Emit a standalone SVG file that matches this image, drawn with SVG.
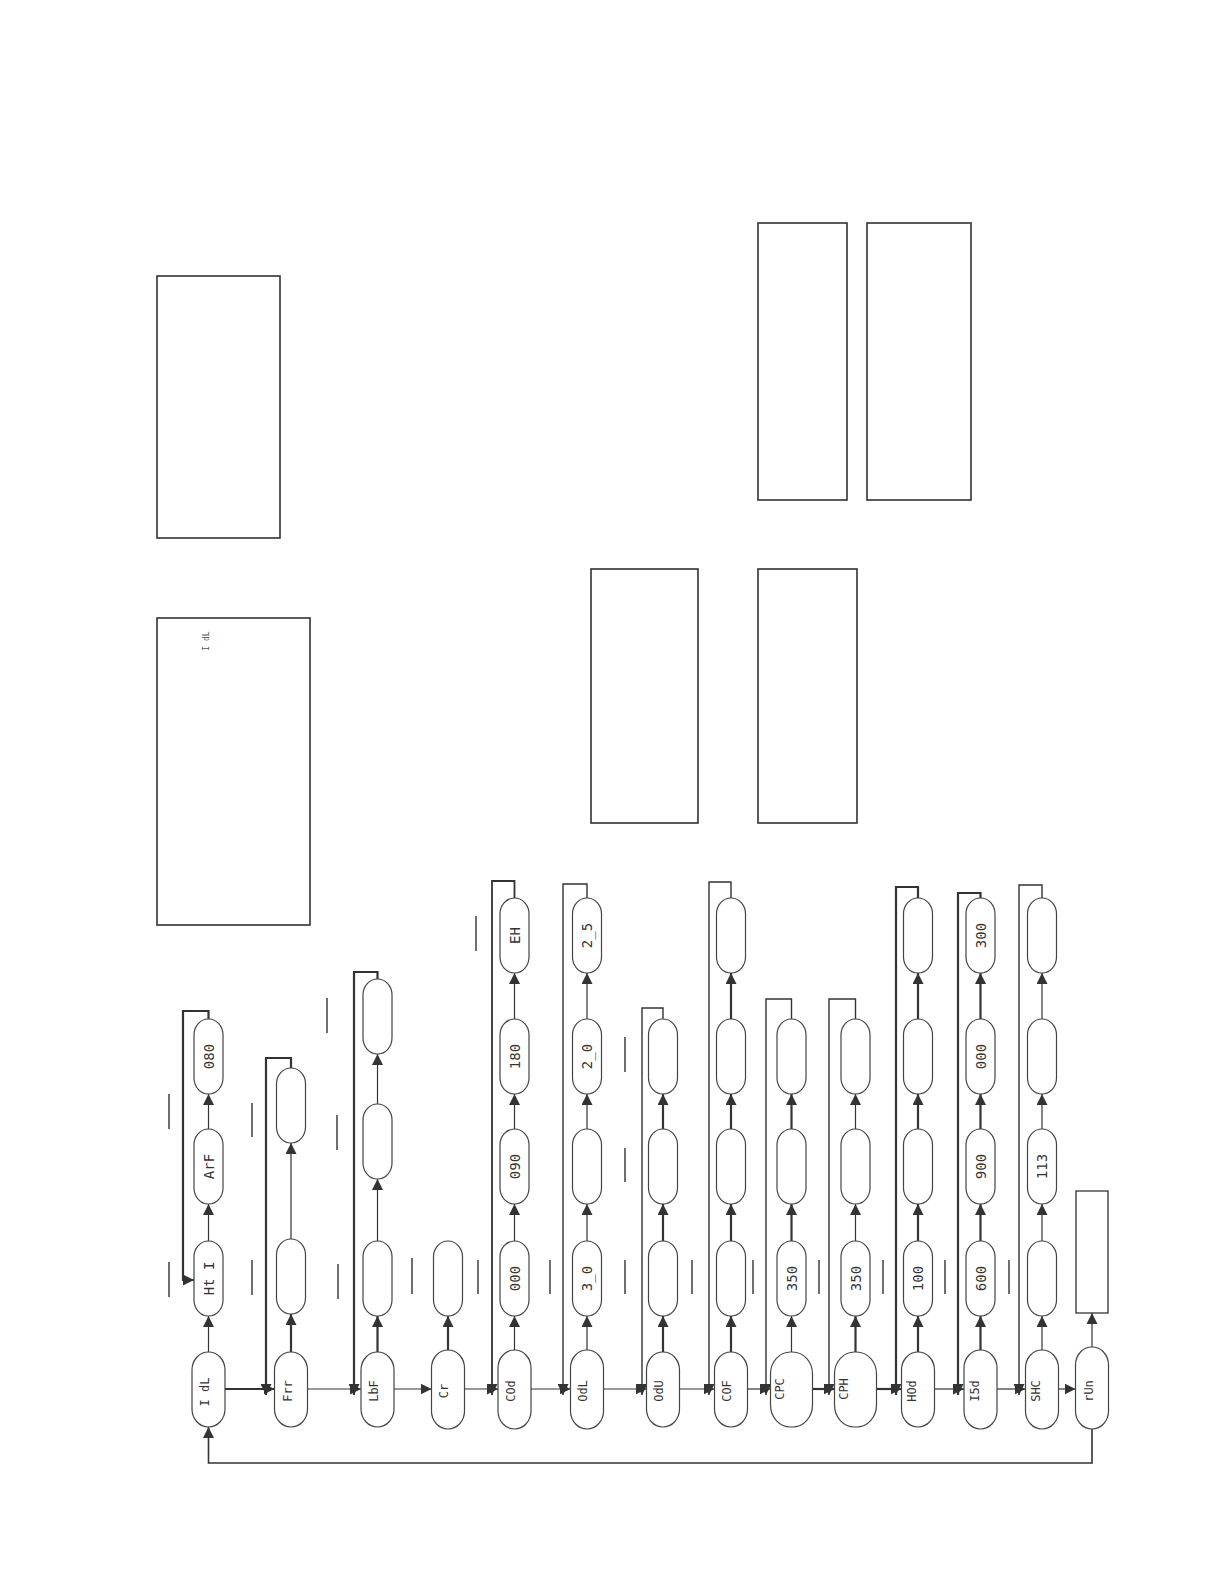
<svg xmlns="http://www.w3.org/2000/svg" width="1224" height="1584" viewBox="0 0 1224 1584">
<style>
.bg{fill:#fff}
.pill{fill:#fff;stroke:#444;stroke-width:1.2}
.box{fill:none;stroke:#333;stroke-width:1.6}
.ln{fill:none;stroke:#333;stroke-width:1.2}
.thk{stroke-width:2.2}
.dash{stroke:#222;stroke-width:1.3}
.lbl{font-family:"DejaVu Sans Mono","Liberation Mono",monospace;font-size:14px;fill:#333;text-anchor:middle}
.mlbl{font-family:"DejaVu Sans Mono","Liberation Mono",monospace;font-size:12px;fill:#333;text-anchor:middle}
.tiny{font-family:"DejaVu Sans Mono","Liberation Mono",monospace;font-size:8px;fill:#555;text-anchor:middle}
</style>
<defs>
<marker id="ah" markerUnits="userSpaceOnUse" markerWidth="11" markerHeight="11" refX="11" refY="5.5" orient="auto"><path d="M0,0L11,5.5L0,11z" fill="#333"/></marker>
</defs>
<rect class="bg" x="0" y="0" width="1224" height="1584"/>

<g id="boxes">
<rect id="box-a" class="box" x="157" y="276" width="123" height="262"/>
<g id="box-b"><rect class="box" x="157" y="618" width="153" height="307"/><text class="tiny" transform="translate(209,641) rotate(-90)">I dL</text></g>
<rect id="box-c" class="box" x="591" y="569" width="107" height="254"/>
<rect id="box-d" class="box" x="758" y="569" width="99" height="254"/>
<rect id="box-e" class="box" x="758" y="223" width="89" height="277"/>
<rect id="box-f" class="box" x="867" y="223" width="104" height="277"/>
</g>

<g id="marks">
<line class="dash" x1="169" y1="1094" x2="169" y2="1129"/>
<line class="dash" x1="169" y1="1262" x2="169" y2="1297"/>
<line class="dash" x1="252" y1="1103" x2="252" y2="1137"/>
<line class="dash" x1="252" y1="1260" x2="252" y2="1295"/>
<line class="dash" x1="327" y1="998" x2="327" y2="1033"/>
<line class="dash" x1="337" y1="1115" x2="337" y2="1150"/>
<line class="dash" x1="338" y1="1264" x2="338" y2="1299"/>
<line class="dash" x1="412" y1="1258" x2="412" y2="1294"/>
<line class="dash" x1="478" y1="1260" x2="478" y2="1294"/>
<line class="dash" x1="476" y1="916" x2="476" y2="951"/>
<line class="dash" x1="550" y1="1260" x2="550" y2="1294"/>
<line class="dash" x1="625" y1="1037" x2="625" y2="1072"/>
<line class="dash" x1="625" y1="1148" x2="625" y2="1182"/>
<line class="dash" x1="625" y1="1260" x2="625" y2="1294"/>
<line class="dash" x1="692" y1="1260" x2="692" y2="1294"/>
<line class="dash" x1="753" y1="1260" x2="753" y2="1294"/>
<line class="dash" x1="819" y1="1260" x2="819" y2="1294"/>
<line class="dash" x1="883" y1="1260" x2="883" y2="1294"/>
<line class="dash" x1="945" y1="1260" x2="945" y2="1294"/>
<line class="dash" x1="1009" y1="1260" x2="1009" y2="1294"/>
</g>

<g id="connectors">
<path class="ln thk" d="M225,1389H274.5" marker-end="url(#ah)"/>
<path class="ln" d="M307.5,1389H361" marker-end="url(#ah)"/>
<path class="ln" d="M394,1389H431.5" marker-end="url(#ah)"/>
<path class="ln" d="M464.5,1389H498" marker-end="url(#ah)"/>
<path class="ln" d="M531,1389H570.5" marker-end="url(#ah)"/>
<path class="ln" d="M603.5,1389H646.5" marker-end="url(#ah)"/>
<path class="ln" d="M679.5,1389H714.5" marker-end="url(#ah)"/>
<path class="ln" d="M747.5,1389H770.5" marker-end="url(#ah)"/>
<path class="ln thk" d="M812.5,1389H834.5" marker-end="url(#ah)"/>
<path class="ln thk" d="M876.5,1389H901.5" marker-end="url(#ah)"/>
<path class="ln" d="M934.5,1389H964" marker-end="url(#ah)"/>
<path class="ln" d="M997,1389H1025.5" marker-end="url(#ah)"/>
<path class="ln" d="M1058.5,1389H1075.5" marker-end="url(#ah)"/>
<path class="ln" d="M1092,1427V1463H208.5V1427" marker-end="url(#ah)" style="stroke-width:1.6"/>
<path class="ln" d="M208.5,1352V1316" marker-end="url(#ah)"/>
<path class="ln" d="M208.5,1241V1204" marker-end="url(#ah)"/>
<path class="ln" d="M208.5,1129V1094" marker-end="url(#ah)"/>
<path class="ln thk" d="M208.5,1019V1011H183V1280H194" marker-end="url(#ah)"/>
<path class="ln thk" d="M291,1352V1314" marker-end="url(#ah)"/>
<path class="ln" d="M291,1239V1143" marker-end="url(#ah)"/>
<path class="ln thk" d="M291,1068V1058H266V1395" marker-end="url(#ah)"/>
<path class="ln thk" d="M377.5,1352V1316" marker-end="url(#ah)"/>
<path class="ln" d="M377.5,1241V1179" marker-end="url(#ah)"/>
<path class="ln" d="M377.5,1104V1054" marker-end="url(#ah)"/>
<path class="ln thk" d="M377.5,979V972H354V1395" marker-end="url(#ah)"/>
<path class="ln thk" d="M448,1352V1316" marker-end="url(#ah)"/>
<path class="ln" d="M514.5,1352V1316" marker-end="url(#ah)"/>
<path class="ln" d="M514.5,1241V1204" marker-end="url(#ah)"/>
<path class="ln" d="M514.5,1129V1094" marker-end="url(#ah)"/>
<path class="ln" d="M514.5,1019V973" marker-end="url(#ah)"/>
<path class="ln" style="stroke-width:1.8" d="M514.5,898V881H492V1395" marker-end="url(#ah)"/>
<path class="ln" d="M587,1352V1316" marker-end="url(#ah)"/>
<path class="ln" d="M587,1241V1204" marker-end="url(#ah)"/>
<path class="ln" d="M587,1129V1094" marker-end="url(#ah)"/>
<path class="ln" d="M587,1019V973" marker-end="url(#ah)"/>
<path class="ln" style="stroke-width:1.4" d="M587,898V884H563V1395" marker-end="url(#ah)"/>
<path class="ln thk" d="M663,1352V1316" marker-end="url(#ah)"/>
<path class="ln thk" d="M663,1241V1204" marker-end="url(#ah)"/>
<path class="ln thk" d="M663,1129V1094" marker-end="url(#ah)"/>
<path class="ln" style="stroke-width:1.4" d="M663,1019V1008H642V1395" marker-end="url(#ah)"/>
<path class="ln thk" d="M731,1352V1316" marker-end="url(#ah)"/>
<path class="ln thk" d="M731,1241V1204" marker-end="url(#ah)"/>
<path class="ln thk" d="M731,1129V1094" marker-end="url(#ah)"/>
<path class="ln thk" d="M731,1019V973" marker-end="url(#ah)"/>
<path class="ln" style="stroke-width:1.4" d="M731,898V882H709V1395" marker-end="url(#ah)"/>
<path class="ln" d="M791.5,1352V1316" marker-end="url(#ah)"/>
<path class="ln thk" d="M791.5,1241V1204" marker-end="url(#ah)"/>
<path class="ln thk" d="M791.5,1129V1094" marker-end="url(#ah)"/>
<path class="ln" style="stroke-width:1.4" d="M791.5,1019V999H766V1395" marker-end="url(#ah)"/>
<path class="ln thk" d="M855.5,1352V1316" marker-end="url(#ah)"/>
<path class="ln" d="M855.5,1241V1204" marker-end="url(#ah)"/>
<path class="ln" d="M855.5,1129V1094" marker-end="url(#ah)"/>
<path class="ln" style="stroke-width:1.4" d="M855.5,1019V999H829V1395" marker-end="url(#ah)"/>
<path class="ln thk" d="M918,1352V1316" marker-end="url(#ah)"/>
<path class="ln thk" d="M918,1241V1204" marker-end="url(#ah)"/>
<path class="ln thk" d="M918,1129V1094" marker-end="url(#ah)"/>
<path class="ln thk" d="M918,1019V973" marker-end="url(#ah)"/>
<path class="ln thk" d="M918,898V887H896V1395" marker-end="url(#ah)"/>
<path class="ln thk" d="M980.5,1352V1316" marker-end="url(#ah)"/>
<path class="ln thk" d="M980.5,1241V1204" marker-end="url(#ah)"/>
<path class="ln thk" d="M980.5,1129V1094" marker-end="url(#ah)"/>
<path class="ln thk" d="M980.5,1019V973" marker-end="url(#ah)"/>
<path class="ln thk" d="M980.5,898V893H958V1395" marker-end="url(#ah)"/>
<path class="ln" d="M1042,1352V1316" marker-end="url(#ah)"/>
<path class="ln" d="M1042,1241V1204" marker-end="url(#ah)"/>
<path class="ln" d="M1042,1129V1094" marker-end="url(#ah)"/>
<path class="ln" d="M1042,1019V973" marker-end="url(#ah)"/>
<path class="ln" style="stroke-width:1.4" d="M1042,898V885H1019V1395" marker-end="url(#ah)"/>
<path class="ln" d="M1092,1347V1313" marker-end="url(#ah)"/>
</g>

<g id="n-idl"><rect class="pill" x="192" y="1352" width="33" height="75" rx="16.5" ry="18"/><text class="mlbl" transform="translate(208.5,1392) rotate(-90)">I dL</text></g>
<g id="n-frr"><rect class="pill" x="274.5" y="1352" width="33" height="75" rx="16.5" ry="18"/><text class="mlbl" transform="translate(292,1391) rotate(-90)">Frr</text></g>
<g id="n-lbf"><rect class="pill" x="361" y="1352" width="33" height="75" rx="16.5" ry="18"/><text class="mlbl" transform="translate(377.5,1391) rotate(-90)">LbF</text></g>
<g id="n-cr"><rect class="pill" x="431.5" y="1350" width="33" height="79" rx="16.5" ry="18"/><text class="mlbl" transform="translate(448,1391) rotate(-90)">Cr</text></g>
<g id="n-cod"><rect class="pill" x="498" y="1350" width="33" height="79" rx="16.5" ry="18"/><text class="mlbl" transform="translate(514.5,1391) rotate(-90)">COd</text></g>
<g id="n-odl"><rect class="pill" x="570.5" y="1350" width="33" height="79" rx="16.5" ry="18"/><text class="mlbl" transform="translate(587,1391) rotate(-90)">OdL</text></g>
<g id="n-odu"><rect class="pill" x="646.5" y="1352" width="33" height="75" rx="16.5" ry="18"/><text class="mlbl" transform="translate(663,1391) rotate(-90)">OdU</text></g>
<g id="n-cof"><rect class="pill" x="714.5" y="1352" width="33" height="75" rx="16.5" ry="18"/><text class="mlbl" transform="translate(731,1391) rotate(-90)">COF</text></g>
<g id="n-cpc"><rect class="pill" x="770.5" y="1352" width="42" height="75" rx="20" ry="22"/><text class="mlbl" transform="translate(784,1389) rotate(-90)">CPC</text></g>
<g id="n-cph"><rect class="pill" x="834.5" y="1352" width="42" height="75" rx="20" ry="22"/><text class="mlbl" transform="translate(848,1389) rotate(-90)">CPH</text></g>
<g id="n-hod"><rect class="pill" x="901.5" y="1352" width="33" height="75" rx="16.5" ry="18"/><text class="mlbl" transform="translate(916,1391) rotate(-90)">HOd</text></g>
<g id="n-psd"><rect class="pill" x="964" y="1350" width="33" height="79" rx="16.5" ry="18"/><text class="mlbl" transform="translate(979,1391) rotate(-90)">I5d</text></g>
<g id="n-shc"><rect class="pill" x="1025.5" y="1350" width="33" height="79" rx="16.5" ry="18"/><text class="mlbl" transform="translate(1040,1391) rotate(-90)">SHC</text></g>
<g id="n-run"><rect class="pill" x="1075.5" y="1347" width="33" height="82" rx="16.5" ry="18"/><text class="mlbl" transform="translate(1093,1391) rotate(-90)">rUn</text></g>
<g id="n-run-box"><rect class="box" style="stroke-width:1.3" x="1076" y="1191" width="32" height="122"/></g>

<g id="n-hti"><rect class="pill" x="194" y="1241" width="29" height="75" rx="14.5" ry="16"/><text class="lbl" transform="translate(213.5,1278.5) rotate(-90)">Ht I</text></g>
<g id="n-arf"><rect class="pill" x="194" y="1129" width="29" height="75" rx="14.5" ry="16"/><text class="lbl" transform="translate(213.5,1166.5) rotate(-90)">ArF</text></g>
<g id="n-080"><rect class="pill" x="194" y="1019" width="29" height="75" rx="14.5" ry="16"/><text class="lbl" transform="translate(213.5,1056.5) rotate(-90)">080</text></g>
<g id="n-frr-1"><rect class="pill" x="276.5" y="1239" width="29" height="75" rx="14.5" ry="16"/></g>
<g id="n-frr-2"><rect class="pill" x="276.5" y="1068" width="29" height="75" rx="14.5" ry="16"/></g>
<g id="n-lbf-1"><rect class="pill" x="363" y="1241" width="29" height="75" rx="14.5" ry="16"/></g>
<g id="n-lbf-2"><rect class="pill" x="363" y="1104" width="29" height="75" rx="14.5" ry="16"/></g>
<g id="n-lbf-3"><rect class="pill" x="363" y="979" width="29" height="75" rx="14.5" ry="16"/></g>
<g id="n-cr-1"><rect class="pill" x="433.5" y="1241" width="29" height="75" rx="14.5" ry="16"/></g>
<g id="n-cod-1"><rect class="pill" x="500" y="1241" width="29" height="75" rx="14.5" ry="16"/><text class="lbl" transform="translate(519.5,1278.5) rotate(-90)">000</text></g>
<g id="n-cod-2"><rect class="pill" x="500" y="1129" width="29" height="75" rx="14.5" ry="16"/><text class="lbl" transform="translate(519.5,1166.5) rotate(-90)">090</text></g>
<g id="n-cod-3"><rect class="pill" x="500" y="1019" width="29" height="75" rx="14.5" ry="16"/><text class="lbl" transform="translate(519.5,1056.5) rotate(-90)">180</text></g>
<g id="n-cod-4"><rect class="pill" x="500" y="898" width="29" height="75" rx="14.5" ry="16"/><text class="lbl" transform="translate(519.5,935.5) rotate(-90)">EH</text></g>
<g id="n-odl-1"><rect class="pill" x="572.5" y="1241" width="29" height="75" rx="14.5" ry="16"/><text class="lbl" transform="translate(592,1278.5) rotate(-90)">3_0</text></g>
<g id="n-odl-2"><rect class="pill" x="572.5" y="1129" width="29" height="75" rx="14.5" ry="16"/></g>
<g id="n-odl-3"><rect class="pill" x="572.5" y="1019" width="29" height="75" rx="14.5" ry="16"/><text class="lbl" transform="translate(592,1056.5) rotate(-90)">2_0</text></g>
<g id="n-odl-4"><rect class="pill" x="572.5" y="898" width="29" height="75" rx="14.5" ry="16"/><text class="lbl" transform="translate(592,935.5) rotate(-90)">2_5</text></g>
<g id="n-odu-1"><rect class="pill" x="648.5" y="1241" width="29" height="75" rx="14.5" ry="16"/></g>
<g id="n-odu-2"><rect class="pill" x="648.5" y="1129" width="29" height="75" rx="14.5" ry="16"/></g>
<g id="n-odu-3"><rect class="pill" x="648.5" y="1019" width="29" height="75" rx="14.5" ry="16"/></g>
<g id="n-cof-1"><rect class="pill" x="716.5" y="1241" width="29" height="75" rx="14.5" ry="16"/></g>
<g id="n-cof-2"><rect class="pill" x="716.5" y="1129" width="29" height="75" rx="14.5" ry="16"/></g>
<g id="n-cof-3"><rect class="pill" x="716.5" y="1019" width="29" height="75" rx="14.5" ry="16"/></g>
<g id="n-cof-4"><rect class="pill" x="716.5" y="898" width="29" height="75" rx="14.5" ry="16"/></g>
<g id="n-cpc-1"><rect class="pill" x="777" y="1241" width="29" height="75" rx="14.5" ry="16"/><text class="lbl" transform="translate(796.5,1278.5) rotate(-90)">350</text></g>
<g id="n-cpc-2"><rect class="pill" x="777" y="1129" width="29" height="75" rx="14.5" ry="16"/></g>
<g id="n-cpc-3"><rect class="pill" x="777" y="1019" width="29" height="75" rx="14.5" ry="16"/></g>
<g id="n-cph-1"><rect class="pill" x="841" y="1241" width="29" height="75" rx="14.5" ry="16"/><text class="lbl" transform="translate(860.5,1278.5) rotate(-90)">350</text></g>
<g id="n-cph-2"><rect class="pill" x="841" y="1129" width="29" height="75" rx="14.5" ry="16"/></g>
<g id="n-cph-3"><rect class="pill" x="841" y="1019" width="29" height="75" rx="14.5" ry="16"/></g>
<g id="n-hod-1"><rect class="pill" x="903.5" y="1241" width="29" height="75" rx="14.5" ry="16"/><text class="lbl" transform="translate(923,1278.5) rotate(-90)">100</text></g>
<g id="n-hod-2"><rect class="pill" x="903.5" y="1129" width="29" height="75" rx="14.5" ry="16"/></g>
<g id="n-hod-3"><rect class="pill" x="903.5" y="1019" width="29" height="75" rx="14.5" ry="16"/></g>
<g id="n-hod-4"><rect class="pill" x="903.5" y="898" width="29" height="75" rx="14.5" ry="16"/></g>
<g id="n-psd-1"><rect class="pill" x="966" y="1241" width="29" height="75" rx="14.5" ry="16"/><text class="lbl" transform="translate(985.5,1278.5) rotate(-90)">600</text></g>
<g id="n-psd-2"><rect class="pill" x="966" y="1129" width="29" height="75" rx="14.5" ry="16"/><text class="lbl" transform="translate(985.5,1166.5) rotate(-90)">900</text></g>
<g id="n-psd-3"><rect class="pill" x="966" y="1019" width="29" height="75" rx="14.5" ry="16"/><text class="lbl" transform="translate(985.5,1056.5) rotate(-90)">000</text></g>
<g id="n-psd-4"><rect class="pill" x="966" y="898" width="29" height="75" rx="14.5" ry="16"/><text class="lbl" transform="translate(985.5,935.5) rotate(-90)">300</text></g>
<g id="n-shc-1"><rect class="pill" x="1027.5" y="1241" width="29" height="75" rx="14.5" ry="16"/></g>
<g id="n-shc-2"><rect class="pill" x="1027.5" y="1129" width="29" height="75" rx="14.5" ry="16"/><text class="lbl" transform="translate(1047,1166.5) rotate(-90)">113</text></g>
<g id="n-shc-3"><rect class="pill" x="1027.5" y="1019" width="29" height="75" rx="14.5" ry="16"/></g>
<g id="n-shc-4"><rect class="pill" x="1027.5" y="898" width="29" height="75" rx="14.5" ry="16"/></g>
</svg>
